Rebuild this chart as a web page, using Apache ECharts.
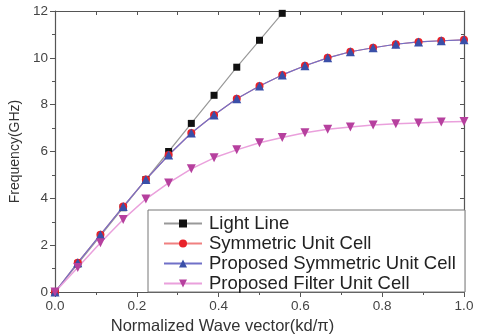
<!DOCTYPE html>
<html>
<head>
<meta charset="utf-8">
<script src="https://cdn.jsdelivr.net/npm/echarts@6/dist/echarts.min.js"></script>
<style>
  html, body { margin: 0; padding: 0; background: #fff; }
  #chart { width: 478px; height: 335px; }
</style>
</head>
<body>
<div id="chart"></div>
<script>
// Normalized wave vector samples (kd/π), 18 equal steps from 0 to 1
const waveVector = [0, 0.0556, 0.1111, 0.1667, 0.2222, 0.2778, 0.3333, 0.3889, 0.4444, 0.5,
  0.5556, 0.6111, 0.6667, 0.7222, 0.7778, 0.8333, 0.8889, 0.9444, 1.0];

// Dispersion curves, frequency in GHz
const lightLine = [0, 1.2, 2.4, 3.6, 4.8, 6.0, 7.2, 8.4, 9.6, 10.75, 11.9];
const symmetricCell = [0, 1.25, 2.45, 3.65, 4.8, 5.85, 6.79, 7.56, 8.25, 8.8, 9.27, 9.66,
  10.0, 10.26, 10.43, 10.58, 10.68, 10.73, 10.77];
const proposedSymmetric = [0, 1.25, 2.45, 3.65, 4.8, 5.85, 6.79, 7.56, 8.25, 8.8, 9.27, 9.66,
  10.0, 10.26, 10.43, 10.58, 10.68, 10.73, 10.77];
const proposedFilter = [0, 1.05, 2.1, 3.1, 3.97, 4.66, 5.26, 5.73, 6.07, 6.37, 6.6, 6.8,
  6.95, 7.05, 7.13, 7.18, 7.22, 7.26, 7.28];

const seriesNames = ['Light Line', 'Symmetric Unit Cell', 'Proposed Symmetric Unit Cell', 'Proposed Filter Unit Cell'];

function pairs(ys) {
  return ys.map((y, i) => [waveVector[i], y]);
}

const font = 'Liberation Sans, Arial, sans-serif';
const axisColor = '#555';

const chart = echarts.init(document.getElementById('chart'), null, { renderer: 'canvas' });

chart.setOption({
  animation: false,
  backgroundColor: '#fff',
  grid: { left: 55, right: 14, top: 11, bottom: 43, containLabel: false, outerBoundsMode: 'none' },
  xAxis: [{
    type: 'value', min: 0, max: 1, interval: 0.2,
    name: 'Normalized Wave vector(kd/\u03c0)',
    nameLocation: 'middle', nameGap: 23,
    nameTextStyle: { fontFamily: font, fontSize: 16.5, color: '#333', padding: [0, 74, 0, 0] },
    axisLine: { lineStyle: { color: axisColor, width: 1.2 } },
    axisTick: { inside: false, length: 5, lineStyle: { color: axisColor } },
    minorTick: { show: true, splitNumber: 2, length: 3, lineStyle: { color: axisColor } },
    axisLabel: { fontFamily: font, fontSize: 13.5, color: '#444', margin: 7,
      formatter: v => v.toFixed(1) },
    splitLine: { show: false }
  }, {
    type: 'value', position: 'top', min: 0, max: 1, interval: 0.2,
    axisLine: { show: true, onZero: false, lineStyle: { color: axisColor, width: 1.2 } },
    axisTick: { show: true, inside: true, length: 4, lineStyle: { color: axisColor } },
    minorTick: { show: true, splitNumber: 2, length: 4, lineStyle: { color: axisColor } },
    axisLabel: { show: false },
    splitLine: { show: false }
  }],
  yAxis: [{
    type: 'value', min: 0, max: 12, interval: 2,
    name: 'Frequency(GHz)',
    nameLocation: 'middle', nameGap: 30,
    nameTextStyle: { fontFamily: font, fontSize: 14, color: '#333' },
    axisLine: { show: true, lineStyle: { color: axisColor, width: 1.2 } },
    axisTick: { inside: false, length: 5, lineStyle: { color: axisColor } },
    minorTick: { show: true, splitNumber: 2, length: 3, lineStyle: { color: axisColor } },
    axisLabel: { fontFamily: font, fontSize: 13.5, color: '#444', margin: 7 },
    splitLine: { show: false }
  }, {
    type: 'value', position: 'right', min: 0, max: 12, interval: 2,
    axisLine: { show: true, onZero: false, lineStyle: { color: axisColor, width: 1.2 } },
    axisTick: { show: true, inside: true, length: 4, lineStyle: { color: axisColor } },
    minorTick: { show: true, splitNumber: 2, length: 3, lineStyle: { color: axisColor } },
    axisLabel: { show: false },
    splitLine: { show: false }
  }],
  graphic: [{
    type: 'rect', z: 3,
    shape: { x: 148, y: 210, width: 317, height: 82 },
    style: { fill: '#fff', stroke: '#777', lineWidth: 1 }
  }],
  legend: {
    orient: 'vertical', left: 163, top: 214, padding: 0,
    itemWidth: 38, itemHeight: 10, itemGap: 1,
    z: 5,
    textStyle: { fontFamily: font, fontSize: 18.5, color: '#222', lineHeight: 18, padding: [0, 0, 0, 2] },
    data: seriesNames
  },
  series: [{
    name: seriesNames[0], type: 'line', data: pairs(lightLine),
    symbol: 'rect', symbolSize: 7,
    itemStyle: { color: '#111' },
    lineStyle: { color: '#999', width: 1.2 }
  }, {
    name: seriesNames[1], type: 'line', data: pairs(symmetricCell),
    symbol: 'circle', symbolSize: 8,
    itemStyle: { color: '#e8222a' },
    lineStyle: { color: '#f08080', width: 1.2 }
  }, {
    name: seriesNames[2], type: 'line', data: pairs(proposedSymmetric),
    symbol: 'triangle', symbolSize: 9,
    itemStyle: { color: '#3a4fa8' },
    lineStyle: { color: '#7070c8', width: 1.2 }
  }, {
    name: seriesNames[3], type: 'line', data: pairs(proposedFilter),
    symbol: 'triangle', symbolRotate: 180, symbolSize: 9,
    itemStyle: { color: '#b6409e' },
    lineStyle: { color: '#eaa0dc', width: 1.5 }
  }, {
    // empty series that binds the top and right frame axes so they are drawn
    type: 'line', xAxisIndex: 1, yAxisIndex: 1, data: [], silent: true
  }]
});
</script>
</body>
</html>
